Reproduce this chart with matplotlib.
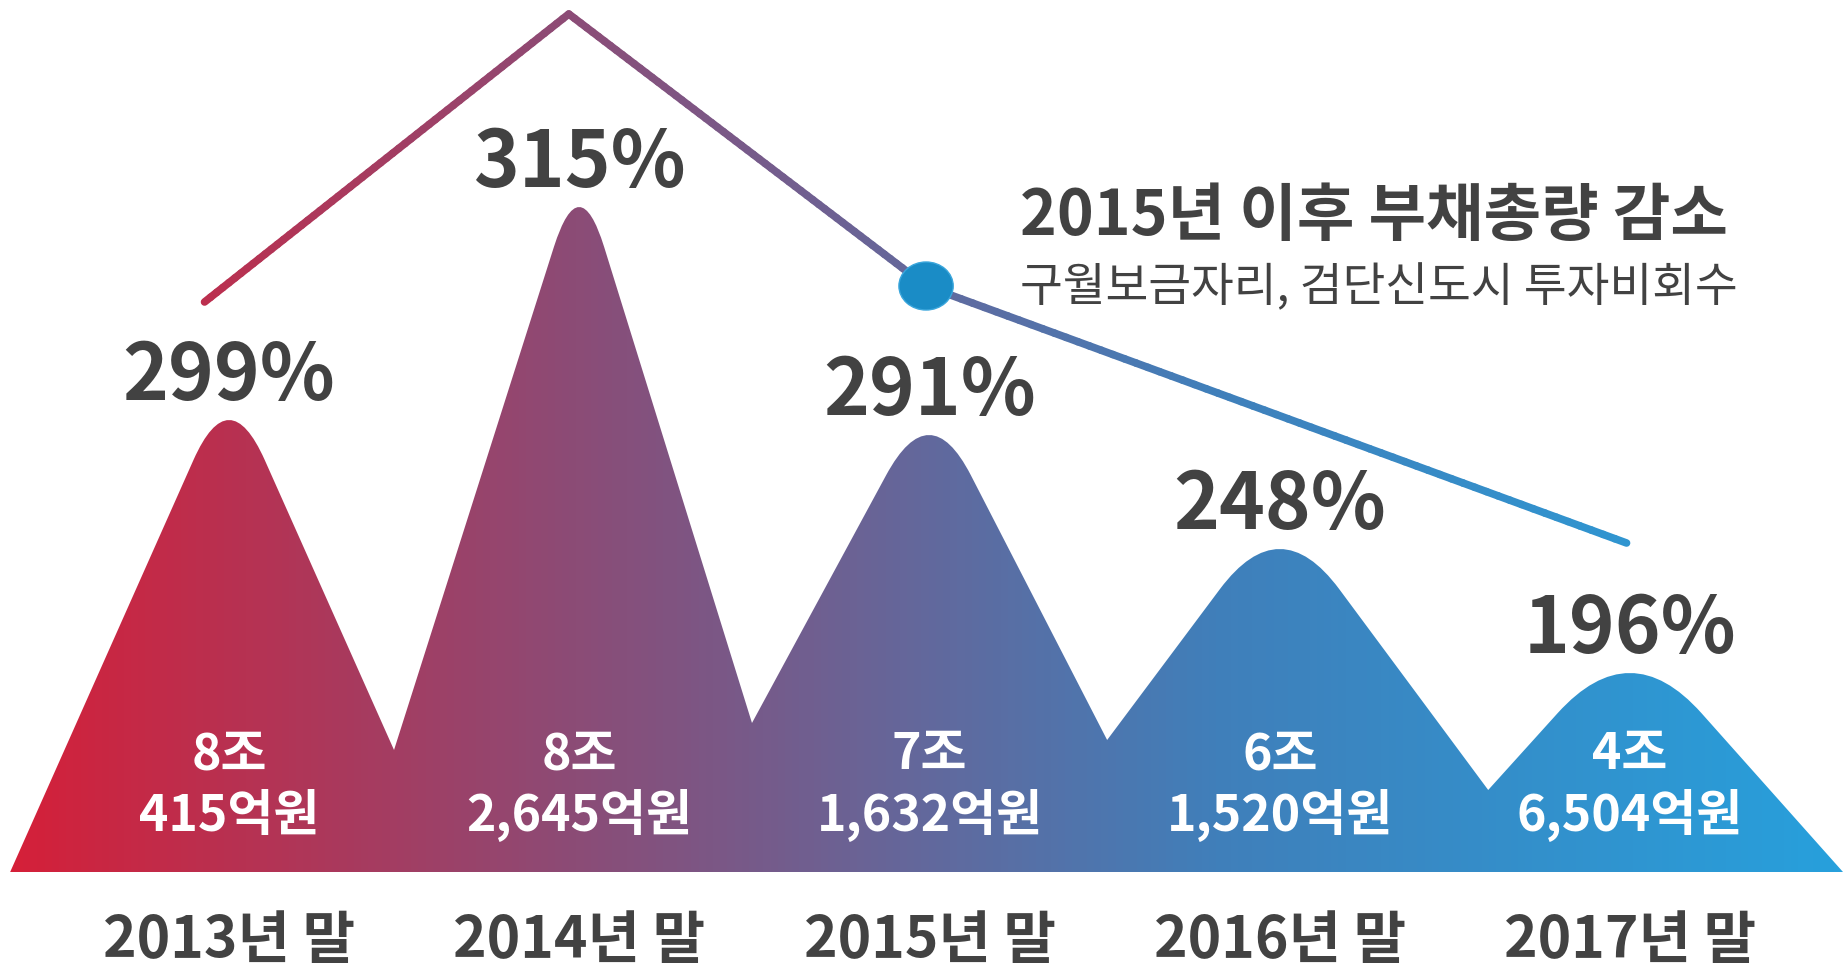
import numpy as np
import matplotlib
matplotlib.use('Agg')
import matplotlib.pyplot as plt
from matplotlib.path import Path
from matplotlib.patches import PathPatch, Ellipse
from matplotlib.collections import LineCollection
from matplotlib.colors import LinearSegmentedColormap

plt.rcParams['font.family'] = ['Noto Sans CJK KR', 'DejaVu Sans']

# Data
years = ['2013년 말', '2014년 말', '2015년 말', '2016년 말', '2017년 말']
ratio_labels = ['299%', '315%', '291%', '248%', '196%']
debt_jo = ['8조', '8조', '7조', '6조', '4조']
debt_eok = ['415억원', '2,645억원', '1,632억원', '1,520억원', '6,504억원']

# mountain silhouette (illustrative heights)
peak_height = [4.52, 6.65, 4.37, 3.23, 1.99]
valley_x = [-0.625, 0.471, 1.493, 2.507, 3.595, 4.608]
valley_height = [0.0, 1.22, 1.49, 1.32, 0.82, 0.0]

# trend line above the mountains
trend_x = [-0.07, 0.97, 1.99, 3.99]
trend_h = [5.70, 8.58, 5.86, 3.29]

note_title = '2015년 이후 부채총량 감소'
note_sub = '구월보금자리, 검단신도시 투자비회수'

TEXT = '#424242'
X_LO, X_HI = -0.654, 4.608
cmap = LinearSegmentedColormap.from_list(
    'debt', [(0.0, '#d61f38'), (0.3, '#8e4a74'), (0.5, '#63689c'),
             (0.66, '#407fba'), (1.0, '#27a0dc')])


# Build the mountain outline with rounded peaks
def mountain_path(round_depth=0.8):
    verts = [(valley_x[0], valley_height[0])]
    codes = [Path.MOVETO]
    for i, top in enumerate(peak_height):
        apex = np.array([i, top + round_depth / 2])
        left = np.array([valley_x[i], valley_height[i]])
        right = np.array([valley_x[i + 1], valley_height[i + 1]])
        p0 = apex + (left - apex) * round_depth / (apex[1] - left[1])
        p2 = apex + (right - apex) * round_depth / (apex[1] - right[1])
        verts += [tuple(p0), tuple(apex), tuple(p2)]
        codes += [Path.LINETO, Path.CURVE3, Path.CURVE3]
        verts.append((valley_x[i + 1], valley_height[i + 1]))
        codes.append(Path.LINETO)
    verts.append((valley_x[0], valley_height[0]))
    codes.append(Path.CLOSEPOLY)
    return Path(verts, codes)


fig = plt.figure(figsize=(18.43, 9.72), dpi=100)
ax = fig.add_axes([0, 0, 1, 1])
ax.set_axis_off()

# Gradient filled mountains
patch = PathPatch(mountain_path(), facecolor='none', edgecolor='none')
ax.add_patch(patch)
grad = np.linspace(0, 1, 600).reshape(1, -1)
im = ax.imshow(grad, cmap=cmap, extent=(X_LO, X_HI, 0, 8), aspect='auto',
               origin='lower', zorder=1, interpolation='bilinear')
im.set_clip_path(patch)

# Gradient trend line
xs, hs = [], []
for k in range(len(trend_x) - 1):
    t = np.linspace(0, 1, 60, endpoint=False)
    xs.append(trend_x[k] + (trend_x[k + 1] - trend_x[k]) * t)
    hs.append(trend_h[k] + (trend_h[k + 1] - trend_h[k]) * t)
xs.append([trend_x[-1]])
hs.append([trend_h[-1]])
xs = np.concatenate(xs)
hs = np.concatenate(hs)
pts = np.column_stack([xs, hs]).reshape(-1, 1, 2)
segs = np.concatenate([pts[:-1], pts[1:]], axis=1)
mid = (xs[:-1] + xs[1:]) / 2
lc = LineCollection(segs, colors=cmap((mid - X_LO) / (X_HI - X_LO)),
                    linewidths=5.5, capstyle='round', joinstyle='round', zorder=2)
ax.add_collection(lc)

# Marker at 2015
ax.add_patch(Ellipse((trend_x[2], trend_h[2]), 0.155, 0.48, facecolor='#1a8cc6',
                     edgecolor='#3aa6dc', linewidth=1, zorder=3))

# Labels
for i in range(len(years)):
    ax.text(i, peak_height[i] + 0.20, ratio_labels[i], ha='center', va='baseline',
            fontsize=56, fontweight='bold', color=TEXT, zorder=4)
    ax.text(i, 1.03, debt_jo[i], ha='center', va='baseline',
            fontsize=36, fontweight='bold', color='white', zorder=4)
    ax.text(i, 0.41, debt_eok[i], ha='center', va='baseline',
            fontsize=36, fontweight='bold', color='white', zorder=4)
    ax.text(i, -0.86, years[i], ha='center', va='baseline',
            fontsize=41, fontweight='bold', color=TEXT, zorder=4)

ax.text(2.258, 6.37, note_title, ha='left', va='baseline',
        fontsize=45, fontweight='bold', color=TEXT, zorder=4)
ax.text(2.258, 5.71, note_sub, ha='left', va='baseline',
        fontsize=33.5, color=TEXT, zorder=4)

ax.set_xlim(X_LO, X_HI)
ax.set_ylim(-1.0, 8.72)

fig.savefig('out.png', dpi=100, facecolor='white')
